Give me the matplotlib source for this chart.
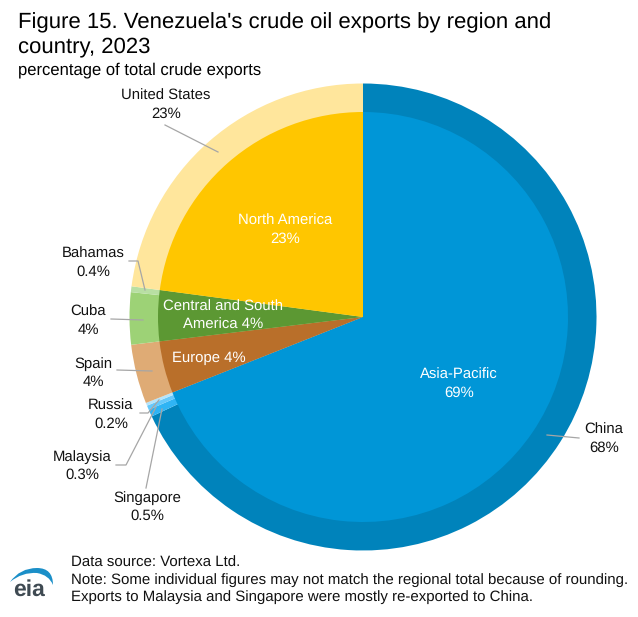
import matplotlib
matplotlib.use("Agg")
import matplotlib.pyplot as plt
from matplotlib.patches import PathPatch
from matplotlib.path import Path
from matplotlib.transforms import Affine2D

plt.rcParams['font.family'] = ['Liberation Sans', 'DejaVu Sans']
plt.rcParams['text.hinting'] = 'no_hinting'

W, H = 638, 617

# regional totals (inner ring), clockwise from 12 o'clock
regions = ['Asia-Pacific', 'Europe', 'Central and South America', 'North America']
region_values = [69.0, 4.1, 4.0, 22.9]
region_labels = ['Asia-Pacific\n69%', 'Europe 4%', 'Central and South\nAmerica 4%', 'North America\n23%']
region_colors = ['#0096d7', '#b96f2a', '#5c9833', '#ffc600']

# countries (outer ring)
countries = ['China', 'Singapore', 'Malaysia', 'Russia', 'Spain', 'Cuba', 'Bahamas', 'United States']
country_values = [68.0, 0.5, 0.3, 0.2, 4.1, 3.6, 0.4, 22.9]
country_labels = ['China\n68%', 'Singapore\n0.5%', 'Malaysia\n0.3%', 'Russia\n0.2%',
                  'Spain\n4%', 'Cuba\n4%', 'Bahamas\n0.4%', 'United States\n23%']
country_colors = ['#0083bb', '#2fb4f4', '#66c9fb', '#b5e4fb',
                  '#dfab75', '#9dd276', '#b8dfa3', '#ffe69c']

fig = plt.figure(figsize=(W / 100, H / 100), dpi=100)
px = Affine2D().scale(1, -1).translate(0, H)  # pixel coords, y down

# pie
cx, cy, r = 363, 317, 233.5
ax = fig.add_axes([(cx - r) / W, (H - cy - r) / H, 2 * r / W, 2 * r / H])
ax.pie(country_values, colors=country_colors, startangle=90, counterclock=False, radius=1,
       wedgeprops=dict(linewidth=0))
ax.pie(region_values, colors=region_colors, startangle=90, counterclock=False, radius=205 / 233.5,
       wedgeprops=dict(linewidth=0))
ax.set_xlim(-1, 1)
ax.set_ylim(-1, 1)
ax.axis('off')

# leader lines
leaders = [
    [(165, 125), (218, 152)],
    [(129, 261), (138, 261), (145, 290)],
    [(111, 319), (143, 320)],
    [(117, 370), (152, 371)],
    [(140, 413), (148, 413), (159, 400)],
    [(116, 465), (126, 465), (156, 407)],
    [(146, 488), (162, 409)],
    [(547, 435), (579, 438)],
]
for pts in leaders:
    xs, ys = zip(*pts)
    fig.add_artist(plt.Line2D(xs, ys, color='#a6a6a6', lw=0.9, transform=px))

# outer labels
country_pos = [(604, 439), (147, 507), (82, 466), (111, 415), (93, 373), (88, 321), (93, 263), (166, 105)]
for label, (x, y) in zip(country_labels, country_pos):
    fig.text(x, y, label, transform=px, ha='center', va='center', fontsize=10.7,
             color='#111111', linespacing=1.35)

# inner labels
region_pos = [(459, 384), (209, 358), (223, 316), (285, 230)]
for label, (x, y) in zip(region_labels, region_pos):
    fig.text(x, y, label, transform=px, ha='center', va='center', fontsize=10.7,
             color='white', linespacing=1.35)

# titles
fig.text(18, 23, "Figure 15. Venezuela's crude oil exports by region and", transform=px,
         fontsize=15.95, va='center', color='black')
fig.text(18, 47, "country, 2023", transform=px, fontsize=15.95, va='center', color='black')
fig.text(18, 70, "percentage of total crude exports", transform=px, fontsize=11.95, va='center', color='black')

# footer
notes = ["Data source: Vortexa Ltd.",
         "Note: Some individual figures may not match the regional total because of rounding.",
         "Exports to Malaysia and Singapore were mostly re-exported to China."]
for i, line in enumerate(notes):
    fig.text(71, 563 + i * 17, line, transform=px, fontsize=10.8, va='center', color='#111111')

# eia logo
arc = Path([(10, 582), (20, 568), (37, 568), (53, 568), (53, 585), (49, 575), (37, 573), (22, 572), (10, 582)],
           [Path.MOVETO, Path.CURVE3, Path.CURVE3, Path.CURVE3, Path.CURVE3,
            Path.CURVE3, Path.CURVE3, Path.CURVE3, Path.CURVE3])
fig.add_artist(PathPatch(arc, facecolor='#1b8fc8', edgecolor='none', transform=px))
fig.text(29, 590, 'eia', transform=px, ha='center', va='center', fontsize=16.5,
         fontweight='bold', color='#3f4a52')

fig.savefig('out.png', dpi=100)
